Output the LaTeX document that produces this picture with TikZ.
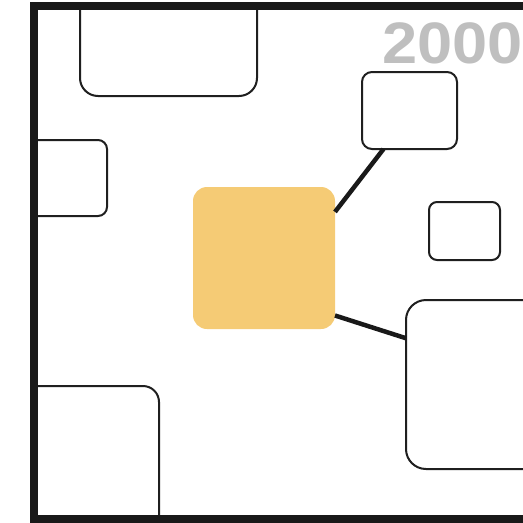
\documentclass[tikz,border=0pt]{standalone}
\usepackage{fontspec}
\setmainfont{Liberation Sans}
\begin{document}
\begin{tikzpicture}[x=1pt,y=-1pt,
  box/.style={draw=black!88,line width=2pt,fill=white,inner sep=0pt,outer sep=0pt},
  hub/.style={fill=hubyellow,inner sep=0pt,outer sep=0pt,rounded corners=14pt,minimum width=142pt,minimum height=142pt},
  link/.style={draw=black!90,line width=4.5pt}]
\definecolor{hubyellow}{HTML}{F5CB75}
\useasboundingbox (0,0) rectangle (523,523);
\clip (0,0) rectangle (523,523);
\node[anchor=base west,inner sep=0pt,text=black!25,xscale=1.08,font=\fontsize{58.5}{58.5}\selectfont\bfseries] (year) at (382,63.5) {2000};
\begin{scope}
\clip (38,10) rectangle (600,515);
\node[box,rounded corners=18pt,minimum width=177pt,minimum height=116pt] (tl) at (168.5,38) {};
\node[box,rounded corners=9pt,minimum width=127pt,minimum height=76pt] (lf) at (43.5,178) {};
\node[box,rounded corners=16pt,minimum width=179pt,minimum height=174pt] (bl) at (69.5,473) {};
\node[box,rounded corners=10pt,minimum width=95pt,minimum height=77pt] (tr) at (409.5,110.5) {};
\node[box,rounded corners=8pt,minimum width=71pt,minimum height=58pt] (sm) at (464.5,231) {};
\node[box,rounded corners=20pt,minimum width=174pt,minimum height=169pt] (bg) at (493,384.5) {};
\node[hub] (hub) at (264,258) {};
\draw[link] (hub.33) -- (tr.236);
\draw[link] (hub.-39) -- (bg.152);
\end{scope}
\draw[line width=8pt,draw=black!90] (34,6) rectangle (600,519);
\end{tikzpicture}
\end{document}
